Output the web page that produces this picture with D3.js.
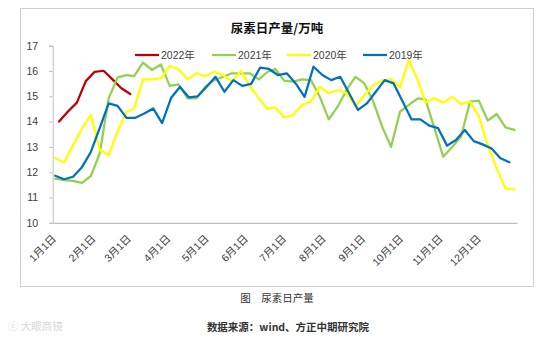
<!DOCTYPE html>
<html>
<head>
<meta charset="utf-8">
<script src="https://cdn.jsdelivr.net/npm/d3@7"></script>
<style>
  html, body { margin: 0; padding: 0; background: #fff; }
  svg { display: block; }
</style>
</head>
<body>
<svg id="chart" width="554" height="342"></svg>
<script>
// ---------------- data ----------------
const title = "尿素日产量/万吨";
const seriesNames = ["2022年", "2021年", "2020年", "2019年"];
const seriesColors = ["#C00000", "#92D050", "#FFFF00", "#0070C0"];

// x positions: day of year of each weekly observation
const days2022 = [5, 12, 19, 26, 33, 40, 47, 54, 61];
const days2021 = [2, 9, 16, 23, 30, 37, 44, 51, 58, 64, 71, 78, 85, 92, 99, 106, 113, 120, 127, 134, 141, 148, 155, 162, 169, 175, 182, 189, 196, 203, 210, 217, 224, 231, 238, 245, 252, 259, 266, 273, 280, 287, 293, 300, 307, 314, 321, 328, 335, 342, 349, 356, 363];
const days2020 = [2, 9, 16, 23, 30, 37, 44, 51, 58, 64, 71, 78, 85, 92, 99, 106, 113, 120, 127, 134, 141, 148, 155, 162, 169, 175, 182, 189, 196, 203, 210, 217, 224, 231, 238, 245, 252, 259, 266, 273, 280, 287, 293, 300, 307, 314, 321, 328, 335, 342, 349, 356, 363];
const days2019 = [2, 9, 16, 23, 30, 37, 44, 51, 58, 65, 72, 79, 86, 93, 100, 107, 114, 121, 128, 135, 142, 149, 156, 163, 170, 177, 184, 191, 198, 205, 212, 219, 226, 233, 240, 247, 254, 261, 268, 275, 282, 289, 296, 303, 310, 317, 324, 331, 338, 345, 352, 359];

const values2022 = [14.0, 14.4, 14.75, 15.6, 15.97, 16.01, 15.67, 15.32, 15.09];
const values2021 = [11.75, 11.69, 11.66, 11.58, 11.85, 12.75, 14.92, 15.75, 15.84, 15.8, 16.33, 16.04, 16.26, 15.41, 15.47, 14.92, 14.92, 15.38, 15.64, 15.77, 15.91, 15.91, 15.91, 15.67, 15.97, 16.08, 15.62, 15.58, 15.67, 15.64, 14.98, 14.09, 14.59, 15.25, 15.77, 15.51, 14.79, 13.8, 13.0, 14.39, 14.66, 14.92, 14.88, 13.75, 12.61, 13.0, 13.4, 14.79, 14.83, 14.04, 14.3, 13.77, 13.67];
const values2020 = [12.55, 12.38, 13.07, 13.73, 14.26, 12.88, 12.68, 13.6, 14.39, 14.52, 15.67, 15.67, 15.71, 16.2, 16.07, 15.67, 15.91, 15.8, 15.97, 15.84, 15.58, 16.01, 15.41, 14.92, 14.5, 14.56, 14.17, 14.26, 14.66, 14.79, 15.38, 15.12, 15.25, 15.12, 14.62, 15.05, 15.45, 15.62, 15.68, 15.36, 16.43, 15.64, 14.75, 14.92, 14.75, 14.98, 14.7, 14.79, 14.22, 13.07, 12.15, 11.35, 11.32];
const values2019 = [11.86, 11.72, 11.82, 12.2, 12.8, 13.75, 14.72, 14.62, 14.15, 14.15, 14.32, 14.52, 13.94, 14.93, 15.37, 14.96, 15.0, 15.38, 15.77, 15.18, 15.64, 15.41, 15.49, 16.13, 16.08, 15.84, 15.91, 15.51, 14.98, 16.17, 15.84, 15.64, 15.77, 15.12, 14.46, 14.72, 15.18, 15.64, 15.51, 14.8, 14.09, 14.09, 13.84, 13.74, 13.05, 13.27, 13.67, 13.23, 13.1, 12.94, 12.55, 12.39];

// x-axis tick labels at month starts (day of year)
const monthStartDays = [0, 31, 59, 90, 120, 151, 181, 212, 243, 273, 304, 334];
const monthLabels = ["1月1日", "2月1日", "3月1日", "4月1日", "5月1日", "6月1日", "7月1日", "8月1日", "9月1日", "10月1日", "11月1日", "12月1日"];
const yTicks = [10, 11, 12, 13, 14, 15, 16, 17];

const captionText = "图　尿素日产量";
const sourceText = "数据来源：wind、方正中期研究院";
const watermarkText = "大眼商镜";

// ---------------- drawing ----------------
const svg = d3.select("#chart");
const latin = "'Liberation Sans', Arial, 'Noto Sans CJK SC', sans-serif";
const cjk = "'Noto Sans CJK SC', 'Liberation Sans', sans-serif";

svg.append("rect").attr("width", 554).attr("height", 342).attr("fill", "#fff");

// chart frame
svg.append("rect")
  .attr("x", 20.5).attr("y", 8.5).attr("width", 513).attr("height", 278)
  .attr("fill", "#fff").attr("stroke", "#d0d0d0").attr("stroke-width", 1);

const x = d3.scaleLinear().domain([0, 365]).range([52.7, 517]);
const y = d3.scaleLinear().domain([10, 17]).range([222.8, 45.7]);

// title
svg.append("text")
  .attr("x", 277).attr("y", 32.5)
  .attr("text-anchor", "middle")
  .attr("font-family", cjk).attr("font-weight", "bold")
  .attr("font-size", 12.5).attr("fill", "#111")
  .text(title);

// y axis
const yAxis = svg.append("g")
  .attr("transform", `translate(${x(0)},0)`)
  .call(d3.axisLeft(y).tickValues(yTicks).tickSize(3.5).tickPadding(11).tickFormat(d3.format("d")));
yAxis.select(".domain").attr("stroke", "#bfbfbf");
yAxis.selectAll(".tick line").attr("stroke", "#bfbfbf");
yAxis.selectAll("text")
  .attr("font-family", latin).attr("font-size", 10.5).attr("fill", "#404040");

// x axis
const xAxis = svg.append("g")
  .attr("transform", `translate(0,${y(10)})`)
  .call(d3.axisBottom(x).tickValues(monthStartDays).tickSize(0)
    .tickFormat((d, i) => monthLabels[i]));
xAxis.select(".domain").attr("stroke", "#bfbfbf").attr("stroke-width", 1.2);
xAxis.selectAll("text")
  .attr("x", 0).attr("y", 0).attr("dy", 0)
  .attr("text-anchor", "end")
  .attr("transform", "translate(3.5,16.5) rotate(-45)")
  .attr("font-family", latin).attr("font-size", 10.5).attr("fill", "#404040");

// series lines (Excel order: first series drawn first)
const seriesDays = [days2022, days2021, days2020, days2019];
const seriesValues = [values2022, values2021, values2020, values2019];
const line = d3.line().x(d => x(d[0])).y(d => y(d[1]));
const drawOrder = [0, 1, 2, 3];
drawOrder.forEach(k => {
  const pts = seriesDays[k].map((d, i) => [d, seriesValues[k][i]]);
  svg.append("path")
    .datum(pts)
    .attr("d", line)
    .attr("fill", "none")
    .attr("stroke", seriesColors[k])
    .attr("stroke-width", 2.25)
    .attr("stroke-linejoin", "round")
    .attr("stroke-linecap", "round");
});

// legend
const legendX = [135, 212, 287, 363];
const legend = svg.append("g");
seriesNames.forEach((name, k) => {
  legend.append("line")
    .attr("x1", legendX[k]).attr("x2", legendX[k] + 24)
    .attr("y1", 55).attr("y2", 55)
    .attr("stroke", seriesColors[k]).attr("stroke-width", 2.25);
  legend.append("text")
    .attr("x", legendX[k] + 26).attr("y", 59)
    .attr("font-family", latin).attr("font-size", 10.5).attr("fill", "#404040")
    .text(name);
});

// caption + source below frame
svg.append("text")
  .attr("x", 277).attr("y", 302)
  .attr("text-anchor", "middle")
  .attr("font-family", cjk).attr("font-size", 10.5).attr("fill", "#333")
  .text(captionText);
svg.append("text")
  .attr("x", 288).attr("y", 330.5)
  .attr("text-anchor", "middle")
  .attr("font-family", cjk).attr("font-weight", "bold").attr("font-size", 10.5).attr("fill", "#333")
  .text(sourceText);

// faint watermark
svg.append("text")
  .attr("x", 8).attr("y", 330)
  .attr("font-family", cjk).attr("font-size", 10.5).attr("fill", "#d8d8d8")
  .text("ⓒ " + watermarkText);
</script>
</body>
</html>
